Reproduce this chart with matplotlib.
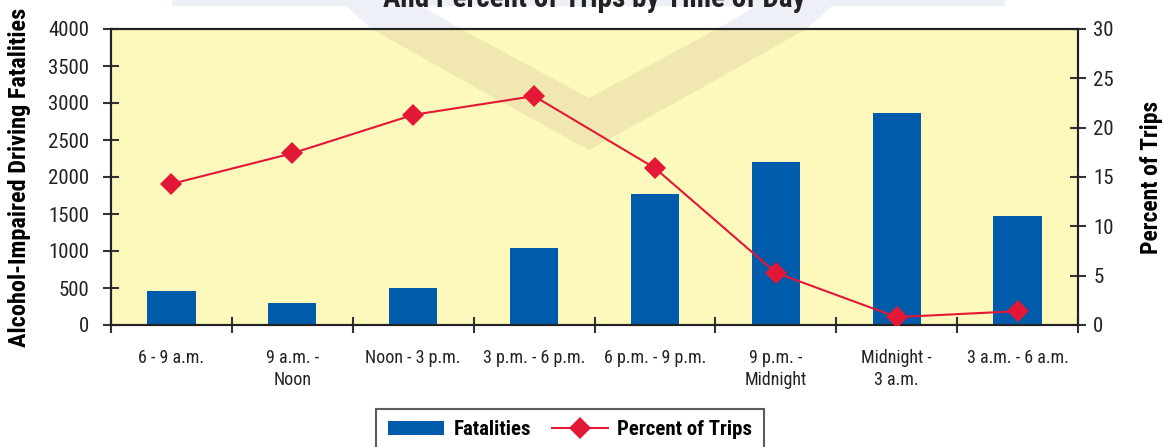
import numpy as np
import matplotlib
matplotlib.use('Agg')
import matplotlib.pyplot as plt
from matplotlib.patches import Polygon, Rectangle
from matplotlib.ticker import FixedLocator

plt.rcParams['font.family'] = ['Roboto Condensed', 'DejaVu Sans']

# ---------------- data ----------------
categories = ['6 - 9 a.m.', '9 a.m. -\nNoon', 'Noon - 3 p.m.', '3 p.m. - 6 p.m.',
              '6 p.m. - 9 p.m.', '9 p.m. -\nMidnight', 'Midnight -\n3 a.m.', '3 a.m. - 6 a.m.']
fatalities = [460, 300, 500, 1040, 1770, 2200, 2865, 1475]
percent_trips = [14.3, 17.4, 21.3, 23.2, 15.9, 5.3, 0.8, 1.4]

title = 'And Percent of Trips by Time of Day'
left_label = 'Alcohol-Impaired Driving Fatalities'
right_label = 'Percent of Trips'

W, H = 1163, 447
fig = plt.figure(figsize=(W / 100, H / 100), dpi=100)

def fx(px):
    return px / W

def fy(py):
    return 1 - py / H

ax = fig.add_axes([fx(111), fy(325), fx(967), 296 / H])
ax.set_facecolor('#FDF8BB')

#-------------------------------
#   faint watermark behind data
#-------------------------------
shield = [(339, 0), (372, 29), (480, 90), (589, 150), (698, 90), (806, 29), (839, 0),
          (767, 0), (717, 29), (589, 98), (461, 29), (411, 0)]
shield_pts = [(fx(a), fy(b)) for a, b in shield]
# lavender part on the white page
fig.patches.append(Polygon(shield_pts, closed=True, transform=fig.transFigure,
                           facecolor='#EEF0F8', edgecolor='none', zorder=-1))
fig.patches.append(Rectangle((fx(172), fy(6)), fx(833), 6 / H, transform=fig.transFigure,
                             facecolor='#EEF0F8', edgecolor='none', zorder=-1))
# darker yellow part inside the plot
ax.add_patch(Polygon(shield_pts, closed=True, transform=fig.transFigure,
                     facecolor='#F0E8B0', edgecolor='none', zorder=0.5))

#---------------- bars ----------------
x = np.arange(len(categories))
bars = ax.bar(x, fatalities, width=0.4, color='#005BAA', zorder=2, label='Fatalities')
ax.set_xlim(-0.5, 7.5)
ax.set_ylim(0, 4000)
ax.set_yticks(np.arange(0, 4001, 500))

ax.set_xticks(x)
ax.set_xticklabels(categories, fontsize=13, color='#222222', linespacing=1.3)
ax.xaxis.set_minor_locator(FixedLocator(np.arange(-0.5, 8, 1)))
ax.tick_params(axis='x', which='major', length=0, pad=17)
ax.tick_params(axis='x', which='minor', direction='inout', length=12, width=1.5,
               color='#333333')
ax.tick_params(axis='y', direction='inout', length=11.5, width=1.5, color='#333333',
               labelsize=15, pad=10, labelcolor='#222222')
for s in ax.spines.values():
    s.set_linewidth(1.5)
    s.set_color('#222222')
ax.set_ylabel(left_label, fontsize=17.5, fontweight='bold')
ax.yaxis.set_label_coords((31 - 111) / 967, 0.5)

#---------------- line ----------------
ax2 = ax.twinx()
line, = ax2.plot(x, percent_trips, color='#E31837', linewidth=1.5, marker='D',
                 markersize=11, markeredgewidth=0, zorder=3, label='Percent of Trips')
ax2.set_ylim(0, 30)
ax2.set_yticks(np.arange(0, 31, 5))
ax2.tick_params(axis='y', direction='inout', length=12, width=1.5, color='#333333',
                labelsize=15, pad=5, labelcolor='#222222')
for s in ax2.spines.values():
    s.set_linewidth(1.5)
    s.set_color('#222222')
ax2.set_ylabel(right_label, fontsize=17, fontweight='bold')
ax2.yaxis.set_label_coords((1140 - 111) / 967, 0.5)

fig.text(fx(594), fy(7), title, ha='center', va='baseline',
         fontsize=21, fontweight='bold', color='#222222')

leg = fig.legend([bars, line], ['Fatalities', 'Percent of Trips'],
                 loc='upper center', bbox_to_anchor=(fx(570), fy(409)),
                 ncol=2, frameon=True, fancybox=False,
                 prop={'weight': 'bold', 'size': 15}, handlelength=2.7,
                 columnspacing=1.0, handletextpad=0.45, borderpad=0.55,
                 borderaxespad=0)
leg.get_frame().set_edgecolor('#333333')
leg.get_frame().set_linewidth(1.5)

fig.savefig('out.png', dpi=100)
